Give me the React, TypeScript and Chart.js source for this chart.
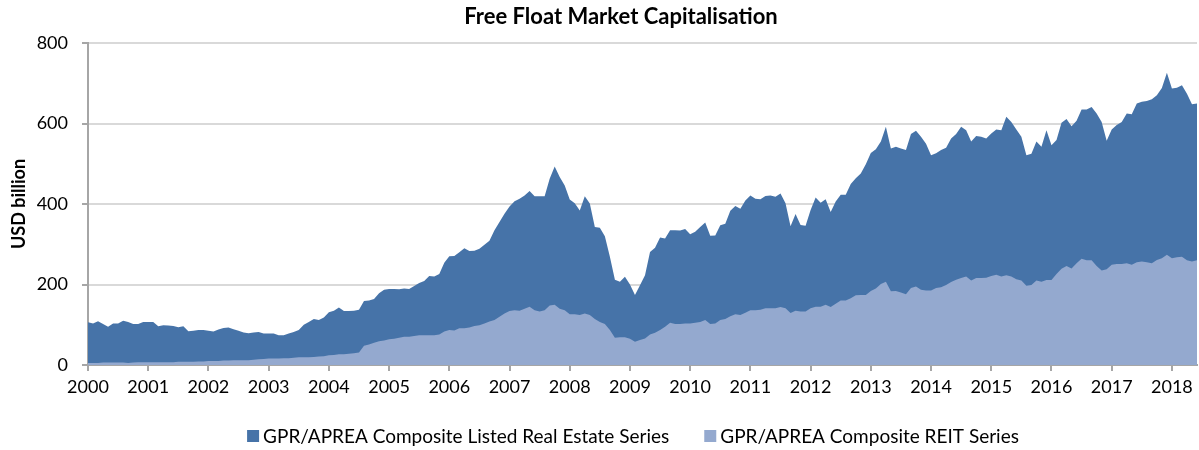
import React, { useEffect, useRef } from 'react';
import { Chart, registerables } from 'chart.js';

Chart.register(...registerables);

const chartTitle = 'Free Float Market Capitalisation';
const yAxisTitle = 'USD billion';
const seriesNames = ['GPR/APREA Composite Listed Real Estate Series', 'GPR/APREA Composite REIT Series'];
const startYear = 2000;
const yearTicks = [2000, 2001, 2002, 2003, 2004, 2005, 2006, 2007, 2008, 2009, 2010, 2011, 2012, 2013, 2014, 2015, 2016, 2017, 2018];
const yTicks = [0, 200, 400, 600, 800];

// Monthly values, Jan 2000 .. Jun 2018 (USD billion)
const listedSeries = [
  106, 103, 109, 102, 95, 103, 103, 110, 107, 102, 102, 107,
  107, 107, 96, 99, 98, 97, 94, 96, 84, 85, 87, 87,
  85, 83, 88, 92, 93, 89, 85, 81, 79, 81, 82, 78,
  78, 78, 74, 74, 78, 82, 87, 100, 107, 114, 112, 118,
  131, 135, 143, 134, 134, 135, 137, 159, 160, 164, 178, 187,
  189, 189, 188, 190, 189, 196, 204, 209, 221, 220, 226, 254,
  270, 271, 280, 290, 283, 284, 289, 299, 309, 335, 355, 376,
  394, 407, 413, 421, 432, 419, 419, 419, 463, 493, 467, 446,
  411, 402, 384, 419, 401, 343, 341, 320, 269, 212, 207, 219,
  200, 174, 198, 223, 281, 291, 317, 314, 335, 335, 334, 338,
  325, 331, 343, 354, 321, 322, 347, 351, 383, 395, 388, 409,
  421, 413, 412, 420, 421, 418, 426, 402, 345, 375, 348, 346,
  385, 416, 403, 412, 380, 406, 423, 423, 450, 464, 476, 499,
  527, 536, 555, 592, 538, 542, 538, 534, 574, 582, 567, 550,
  521, 526, 534, 540, 563, 574, 592, 583, 555, 569, 567, 563,
  575, 585, 583, 617, 604, 585, 567, 521, 525, 555, 542, 583,
  546, 559, 602, 611, 593, 607, 635, 635, 641, 625, 604, 557,
  585, 596, 604, 625, 623, 650, 654, 656, 660, 670, 688, 726,
  687, 689, 695, 674, 648, 650,
];

const reitSeries = [
  5, 5, 5, 6, 6, 6, 6, 6, 5, 6, 7, 7,
  7, 7, 7, 7, 7, 7, 8, 8, 8, 8, 9, 9,
  10, 10, 10, 11, 11, 12, 12, 12, 12, 13, 14, 15,
  16, 16, 16, 17, 17, 18, 19, 19, 19, 20, 21, 22,
  24, 25, 27, 27, 28, 29, 31, 48, 51, 55, 59, 61,
  64, 65, 68, 70, 70, 72, 74, 74, 74, 74, 76, 83,
  87, 86, 91, 91, 93, 97, 99, 103, 108, 112, 120, 128,
  134, 136, 135, 140, 145, 136, 133, 136, 148, 150, 140, 136,
  126, 126, 124, 128, 124, 114, 107, 102, 87, 68, 69, 69,
  65, 58, 62, 66, 76, 80, 87, 95, 105, 102, 102, 103,
  103, 105, 107, 112, 102, 103, 112, 114, 121, 126, 124, 130,
  136, 136, 137, 141, 141, 141, 144, 141, 129, 135, 133, 133,
  141, 145, 145, 150, 144, 152, 160, 160, 166, 173, 174, 174,
  184, 190, 201, 207, 183, 184, 180, 176, 191, 195, 187, 185,
  185, 191, 193, 199, 206, 212, 216, 220, 210, 216, 216, 217,
  221, 224, 220, 223, 220, 213, 210, 197, 199, 210, 207, 211,
  211, 226, 239, 246, 240, 253, 264, 260, 260, 246, 235, 238,
  249, 251, 251, 253, 249, 255, 257, 255, 253, 261, 265, 274,
  265, 268, 269, 260, 257, 260,
];

const darkColor = '#4673A8';
const lightColor = '#94A9CF';
const axisColor = '#a6a6a6';
const gridColor = '#d9d9d9';
const fontFamily = 'Lato, "Open Sans", sans-serif';

const overlayPlugin = {
  id: 'overlay',
  afterDraw(chart: any) {
    const ctx = chart.ctx;
    ctx.save();
    ctx.fillStyle = '#000';
    ctx.textBaseline = 'middle';
    ctx.textAlign = 'center';
    ctx.font = `bold 22px ${fontFamily}`;
    ctx.fillText(chartTitle, 621, 17);

    ctx.font = `19px ${fontFamily}`;
    ctx.textAlign = 'left';
    const colors = [darkColor, lightColor];
    const box = 12;
    const gap = 4;
    const itemGap = 35;
    const widths = seriesNames.map((n) => box + gap + ctx.measureText(n).width);
    const total = widths.reduce((a, b) => a + b, 0) + itemGap * (seriesNames.length - 1);
    let x = 633 - total / 2;
    const cy = 436;
    seriesNames.forEach((name, i) => {
      ctx.fillStyle = colors[i];
      ctx.fillRect(x, cy - box / 2, box, box);
      ctx.fillStyle = '#000';
      ctx.fillText(name, x + box + gap, cy + 1);
      x += widths[i] + itemGap;
    });
    ctx.restore();
  },
};

export default function App() {
  const canvasRef = useRef<HTMLCanvasElement | null>(null);

  useEffect(() => {
    if (!canvasRef.current) return;
    const toPoints = (arr: number[]) => arr.map((v, i) => ({ x: i, y: v }));
    const chart = new Chart(canvasRef.current, {
      type: 'line',
      data: {
        datasets: [
          {
            label: seriesNames[1],
            data: toPoints(reitSeries),
            backgroundColor: lightColor,
            borderColor: lightColor,
            borderWidth: 0,
            fill: 'origin',
            pointRadius: 0,
            tension: 0,
          },
          {
            label: seriesNames[0],
            data: toPoints(listedSeries),
            backgroundColor: darkColor,
            borderColor: darkColor,
            borderWidth: 0,
            fill: 'origin',
            pointRadius: 0,
            tension: 0,
          },
        ],
      },
      options: {
        animation: false,
        responsive: false,
        devicePixelRatio: 1,
        events: [],
        layout: { padding: { top: 43, left: 8, right: 2, bottom: 0 } },
        plugins: {
          legend: { display: false },
          title: { display: false },
          tooltip: { enabled: false },
        },
        scales: {
          x: {
            type: 'linear',
            min: 0,
            max: listedSeries.length - 1,
            afterBuildTicks: (s: any) => {
              s.ticks = yearTicks.map((y) => ({ value: (y - startYear) * 12 }));
            },
            afterFit: (s: any) => {
              s.height = 85;
            },
            ticks: {
              autoSkip: false,
              maxRotation: 0,
              padding: 5,
              color: '#000',
              font: { family: fontFamily, size: 18 },
              callback: (v: any) => String(startYear + Math.round(Number(v) / 12)),
            },
            grid: { drawOnChartArea: false, drawTicks: true, tickLength: 6, color: axisColor, tickColor: axisColor, lineWidth: 2 },
            border: { color: axisColor, width: 2 },
          },
          y: {
            min: 0,
            max: 800,
            afterBuildTicks: (s: any) => {
              s.ticks = yTicks.map((v) => ({ value: v }));
            },
            afterFit: (s: any) => {
              s.width = 80;
            },
            ticks: {
              padding: 14,
              color: '#000',
              font: { family: fontFamily, size: 18 },
            },
            grid: { color: gridColor, lineWidth: 2, tickColor: axisColor, tickLength: 6 },
            border: { color: axisColor, width: 2 },
            title: {
              display: true,
              text: yAxisTitle,
              color: '#000',
              font: { family: fontFamily, size: 18, weight: 'bold' },
              padding: { top: 0, bottom: 0 },
            },
          },
        },
      },
      plugins: [overlayPlugin],
    } as any);
    return () => chart.destroy();
  }, []);

  return (
    <div style={{ position: 'absolute', left: 0, top: 0, width: 1199, height: 450 }}>
      <canvas ref={canvasRef} width={1199} height={450} style={{ display: 'block' }} />
    </div>
  );
}
